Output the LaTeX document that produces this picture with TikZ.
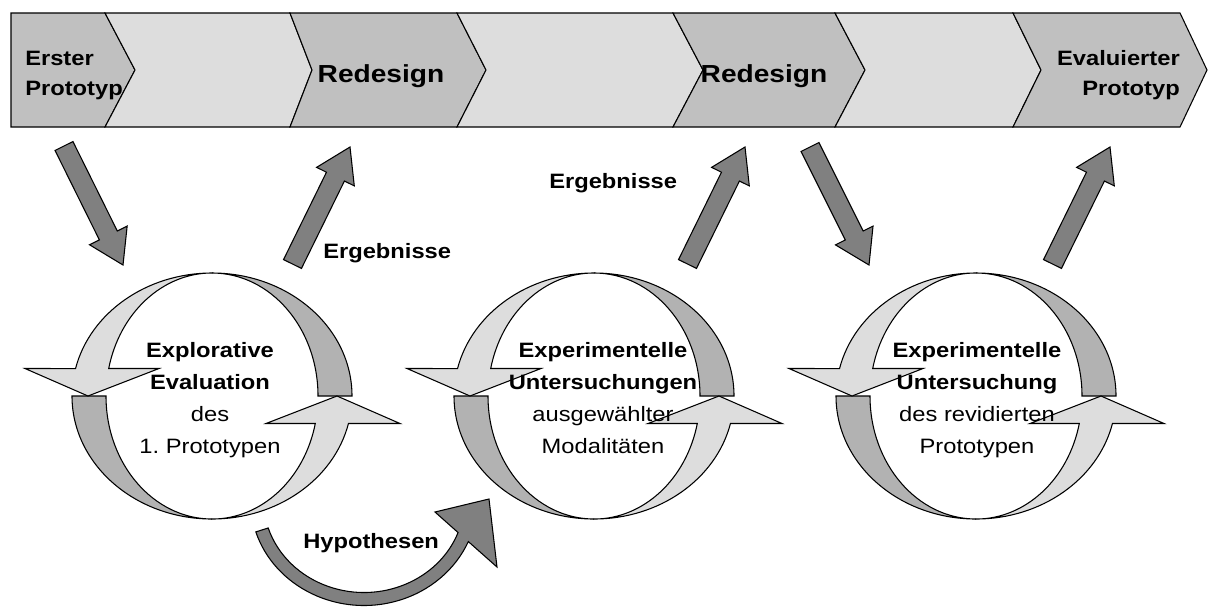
\documentclass[tikz,border=0pt]{standalone}
\usepackage{fontspec}
\usetikzlibrary{calc}
\newfontfamily\diagfont[FakeStretch=1.14]{Liberation Sans}
\definecolor{segdark}{HTML}{C0C0C0}
\definecolor{seglight}{HTML}{DDDDDD}
\definecolor{ringlight}{HTML}{DDDDDD}
\definecolor{ringdark}{HTML}{B2B2B2}
\definecolor{arrowgray}{HTML}{808080}

\tikzset{
  outline/.style={draw=black, line width=0.8pt, line join=miter},
  segD/.style={outline, fill=segdark},
  segL/.style={outline, fill=seglight},
  ringD/.style={outline, fill=ringdark},
  ringL/.style={outline, fill=ringlight},
  blockarrow/.style={outline, fill=arrowgray},
  lbl/.style={inner sep=0pt, font=\diagfont\fontsize{15.6pt}{22.5pt}\selectfont\bfseries},
  bigl/.style={inner sep=0pt, font=\diagfont\fontsize{18.5pt}{22.5pt}\selectfont\bfseries},
  ringtext/.style={inner sep=0pt, align=center, anchor=north,
    font=\diagfont\fontsize{15.6pt}{24pt}\selectfont},
}

% straight block arrow from a tail centre to a tip
\newcommand\blockarrow[2]{%
  \filldraw[blockarrow]
    ($(#1)!7.5pt!90:(#2)$) --
    ($(#2)!24.75pt!(#1)!7.5pt!90:(#2)$) --
    ($(#2)!24.75pt!(#1)!15.75pt!90:(#2)$) --
    (#2) --
    ($(#2)!24.75pt!(#1)!15.75pt!-90:(#2)$) --
    ($(#2)!24.75pt!(#1)!7.5pt!-90:(#2)$) --
    ($(#1)!7.5pt!-90:(#2)$) -- cycle;}

% a cycle of two curved arrows around a centre
\newcommand\ringpair[1]{%
  \begin{scope}[shift={(#1)}]
    \filldraw[ringD] (140,0) arc[start angle=0, end angle=-90, x radius=140, y radius=123]
      arc[start angle=-90, end angle=0, x radius=106, y radius=123] -- cycle;
    \filldraw[ringD] (-140,0) arc[start angle=180, end angle=90, x radius=140, y radius=123]
      arc[start angle=90, end angle=180, x radius=106, y radius=123] -- cycle;
    \filldraw[ringL] (0,-123) arc[start angle=-90, end angle=-167.1, x radius=140, y radius=123]
      -- (-187,-27.5) -- (-124,0) -- (-53,-27.5) -- (-103.3,-27.5)
      arc[start angle=-167.1, end angle=-90, x radius=106, y radius=123] -- cycle;
    \filldraw[ringL] (0,123) arc[start angle=90, end angle=12.9, x radius=140, y radius=123]
      -- (188,27.5) -- (125,0) -- (54,27.5) -- (103.3,27.5)
      arc[start angle=12.9, end angle=90, x radius=106, y radius=123] -- cycle;
  \end{scope}}

\begin{document}
\begin{tikzpicture}[x=0.75pt, y=-0.75pt]
\useasboundingbox (0,0) rectangle (1209,608);

% process band
\filldraw[segD] (11,13) -- (105,13) -- (135,70) -- (105,127) -- (11,127) -- cycle;
\filldraw[segL] (105,13) -- (290,13) -- (312,70) -- (290,127) -- (105,127) -- (135,70) -- cycle;
\filldraw[segD] (290,13) -- (457,13) -- (486,70) -- (457,127) -- (290,127) -- (312,70) -- cycle;
\filldraw[segL] (457,13) -- (673,13) -- (703,70) -- (673,127) -- (457,127) -- (486,70) -- cycle;
\filldraw[segD] (673,13) -- (835,13) -- (865,70) -- (835,127) -- (673,127) -- (703,70) -- cycle;
\filldraw[segL] (835,13) -- (1013,13) -- (1041,70) -- (1013,127) -- (835,127) -- (865,70) -- cycle;
\filldraw[segD] (1013,13) -- (1180,13) -- (1207,70) -- (1180,127) -- (1013,127) -- (1041,70) -- cycle;

\node[lbl, align=left, anchor=north west] (erster) at (25,44) {\strut Erster\\\strut Prototyp};
\node[bigl, anchor=base] (redesignA) at (381,82) {Redesign};
\node[bigl, anchor=base] (redesignB) at (764,82) {Redesign};
\node[lbl, align=right, anchor=north east] (evaluiert) at (1180,44) {\strut Evaluierter\\\strut Prototyp};

% block arrows between band and cycles
\coordinate (a1s) at (64,146);    \coordinate (a1e) at (123,265);
\coordinate (a2s) at (292.5,264); \coordinate (a2e) at (350,147);
\coordinate (a3s) at (687.5,264); \coordinate (a3e) at (745,147);
\coordinate (a4s) at (810,147);   \coordinate (a4e) at (869,265);
\coordinate (a5s) at (1052.5,264);\coordinate (a5e) at (1110,147);
\blockarrow{a1s}{a1e}
\blockarrow{a2s}{a2e}
\blockarrow{a3s}{a3e}
\blockarrow{a4s}{a4e}
\blockarrow{a5s}{a5e}

% cycles
\coordinate (c1) at (212,396);
\coordinate (c2) at (594,396);
\coordinate (c3) at (976,396);
\ringpair{c1}
\ringpair{c2}
\ringpair{c3}

% curved arrow between the first two cycles
\coordinate (hc) at (364,500);
\filldraw[blockarrow] ($(hc)+(162.4:113.5 and 105.5)$)
  arc[start angle=162.4, end angle=23.2, x radius=113.5, y radius=105.5]
  -- (497,567) -- (489,499) -- (435,512)
  -- ($(hc)+(20.6:100.5 and 92.5)$)
  arc[start angle=20.6, end angle=162.4, x radius=100.5, y radius=92.5] -- cycle;

% labels
\node[lbl, anchor=base west] (ergA) at (323,258) {Ergebnisse};
\node[lbl, anchor=base west] (ergB) at (549,188) {Ergebnisse};
\node[lbl, anchor=base west] (hyp) at (303,548) {Hypothesen};

\node[ringtext] (t1) at (210,334.6) {\strut\textbf{Explorative}\\\strut\textbf{Evaluation}\\\strut des\\\strut 1.\ Prototypen};
\node[ringtext] (t2) at (603,334.6) {\strut\textbf{Experimentelle}\\\strut\textbf{Untersuchungen}\\\strut ausgewählter\\\strut Modalitäten};
\node[ringtext] (t3) at (977,334.6) {\strut\textbf{Experimentelle}\\\strut\textbf{Untersuchung}\\\strut des revidierten\\\strut Prototypen};
\end{tikzpicture}
\end{document}
